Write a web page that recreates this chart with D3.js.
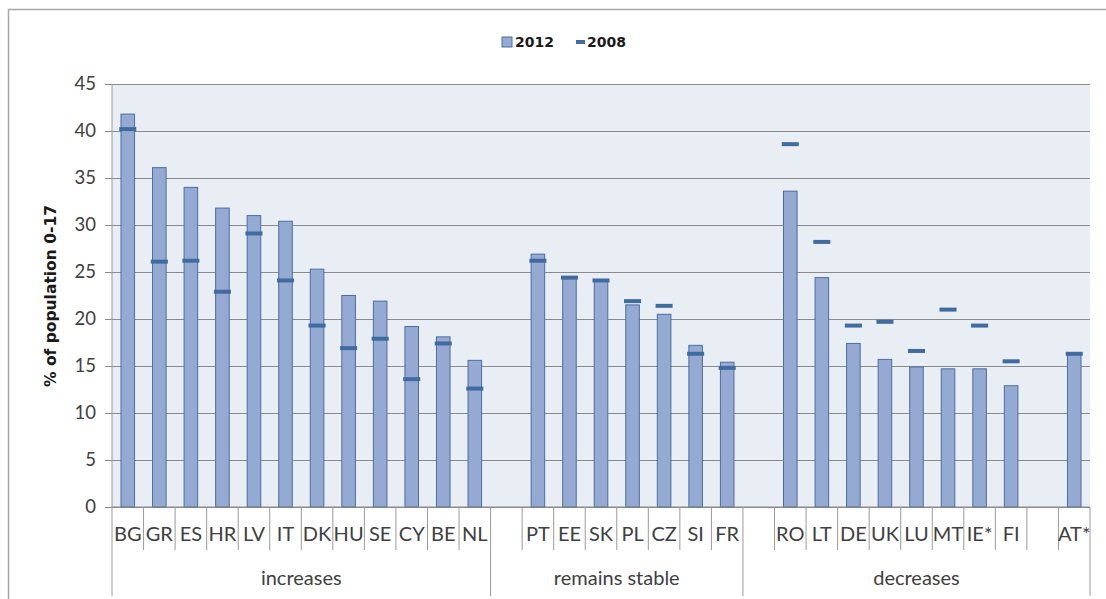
<!DOCTYPE html>
<html>
<head>
<meta charset="utf-8">
<script src="https://cdn.jsdelivr.net/npm/d3@7"></script>
<style>
  body { margin: 0; background: #fff; }
  svg { display: block; }
</style>
</head>
<body>
<svg id="chart" width="1106" height="599"></svg>
<script>
// categories, blank strings are the spacer slots between groups
const categories = ['BG','GR','ES','HR','LV','IT','DK','HU','SE','CY','BE','NL',
                    '','PT','EE','SK','PL','CZ','SI','FR',
                    '','RO','LT','DE','UK','LU','MT','IE*','FI','','AT*']
const values2012 = [41.8,36.1,34.0,31.8,31.0,30.4,25.3,22.5,21.9,19.2,18.1,15.6,
                    null,26.9,24.5,24.1,21.5,20.5,17.2,15.4,
                    null,33.6,24.4,17.4,15.7,14.9,14.7,14.7,12.9,null,16.4]
const values2008 = [40.2,26.1,26.2,22.9,29.1,24.1,19.3,16.9,17.9,13.6,17.4,12.6,
                    null,26.2,24.4,24.1,21.9,21.4,16.3,14.8,
                    null,38.6,28.2,19.3,19.7,16.6,21.0,19.3,15.5,null,16.3]
const groupNames = ['increases','remains stable','decreases']
const groupSizes = [12, 8, 11]
const yTicks = [0,5,10,15,20,25,30,35,40,45]
const seriesNames = ['2012','2008']

const svg = d3.select('#chart')
const plotL = 112, plotR = 1090, plotT = 84, plotB = 507
const plotW = plotR - plotL

const x = d3.scaleBand().domain(d3.range(categories.length)).range([plotL, plotR]).padding(0)
const y = d3.scaleLinear().domain([0, 45]).range([plotB, plotT])

const barFill = '#95aad2'
const barStroke = '#4a6da3'
const markColor = '#3f6b9f'
const gridColor = '#8a8a8a'
const textFont = 'Lato, "Open Sans", sans-serif'

// outer chart frame
svg.append('rect')
    .attr('x', 8.5).attr('y', 9.5)
    .attr('width', 1120).attr('height', 620)
    .attr('fill', '#fff').attr('stroke', '#a5a5a5').attr('stroke-width', 1.5)

// plot background
svg.append('rect')
    .attr('x', plotL).attr('y', plotT)
    .attr('width', plotW).attr('height', plotB - plotT)
    .attr('fill', '#e9edf4')

// gridlines
svg.append('g')
    .attr('transform', `translate(${plotL},0)`)
    .call(d3.axisLeft(y).tickValues(yTicks).tickSize(-plotW).tickFormat(''))
    .call(g => g.select('.domain').remove())
    .call(g => g.selectAll('line').attr('stroke', gridColor).attr('stroke-width', 1))

// y axis ticks and labels
svg.append('g')
    .attr('transform', `translate(${plotL},0)`)
    .call(d3.axisLeft(y).tickValues(yTicks).tickSize(7).tickPadding(9).tickSizeOuter(0))
    .call(g => g.select('.domain').remove())
    .call(g => g.selectAll('line').attr('stroke', gridColor))
    .call(g => g.selectAll('text')
        .attr('font-family', textFont).attr('font-size', 18.5)
        .attr('fill', '#404040'))

// bars 2012
svg.append('g').selectAll('rect')
    .data(values2012.map((v, i) => ({v, i})).filter(d => d.v != null))
    .join('rect')
    .attr('x', d => x(d.i) + x.bandwidth() * 0.285)
    .attr('width', x.bandwidth() * 0.43)
    .attr('y', d => y(d.v))
    .attr('height', d => y(0) - y(d.v))
    .attr('fill', barFill)
    .attr('stroke', barStroke)
    .attr('stroke-width', 1)

// 2008 markers
svg.append('g').selectAll('line')
    .data(values2008.map((v, i) => ({v, i})).filter(d => d.v != null))
    .join('line')
    .attr('x1', d => x(d.i) + x.bandwidth() * 0.23)
    .attr('x2', d => x(d.i) + x.bandwidth() * 0.77)
    .attr('y1', d => y(d.v))
    .attr('y2', d => y(d.v))
    .attr('stroke', markColor)
    .attr('stroke-width', 4)

// x axis line
svg.append('line')
    .attr('x1', plotL).attr('x2', plotR)
    .attr('y1', y(0)).attr('y2', y(0))
    .attr('stroke', gridColor)

// category separators and labels
const groupEdges = [0]
groupSizes.forEach(s => groupEdges.push(groupEdges[groupEdges.length - 1] + s))

const xg = svg.append('g')
d3.range(categories.length + 1).forEach(i => {
    const isGroup = groupEdges.includes(i)
    const xp = i < categories.length ? x(i) : plotR
    xg.append('line')
        .attr('x1', xp).attr('x2', xp)
        .attr('y1', i === 0 ? plotT : y(0))
        .attr('y2', isGroup ? 596 : 550)
        .attr('stroke', '#9a9a9a')
})

xg.selectAll('text.cat')
    .data(categories)
    .join('text')
    .attr('class', 'cat')
    .attr('x', (d, i) => x(i) + x.bandwidth() / 2)
    .attr('y', 541)
    .attr('text-anchor', 'middle')
    .attr('font-family', textFont)
    .attr('font-size', 20)
    .attr('fill', '#404040')
    .text(d => d)

xg.selectAll('text.grp')
    .data(groupNames)
    .join('text')
    .attr('class', 'grp')
    .attr('x', (d, i) => (x(groupEdges[i]) + (groupEdges[i + 1] < categories.length ? x(groupEdges[i + 1]) : plotR)) / 2)
    .attr('y', 585)
    .attr('text-anchor', 'middle')
    .attr('font-family', textFont)
    .attr('font-size', 20)
    .attr('fill', '#404040')
    .text(d => d)

// y axis title
svg.append('text')
    .attr('transform', 'translate(56,296) rotate(-90)')
    .attr('text-anchor', 'middle')
    .attr('font-family', '"DejaVu Sans", Verdana, sans-serif')
    .attr('font-weight', 'bold')
    .attr('font-size', 15.5)
    .attr('fill', '#1a1a1a')
    .text('% of population 0-17')

// legend
const legend = svg.append('g').attr('font-family', '"DejaVu Sans", Verdana, sans-serif')
    .attr('font-weight', 'bold').attr('font-size', 14).attr('fill', '#1a1a1a')
legend.append('rect')
    .attr('x', 502).attr('y', 37).attr('width', 10).attr('height', 10)
    .attr('fill', barFill).attr('stroke', barStroke)
legend.append('text').attr('x', 515).attr('y', 47).text(seriesNames[0])
legend.append('line')
    .attr('x1', 576).attr('x2', 585).attr('y1', 42).attr('y2', 42)
    .attr('stroke', markColor).attr('stroke-width', 4)
legend.append('text').attr('x', 587).attr('y', 47).text(seriesNames[1])
</script>
</body>
</html>
